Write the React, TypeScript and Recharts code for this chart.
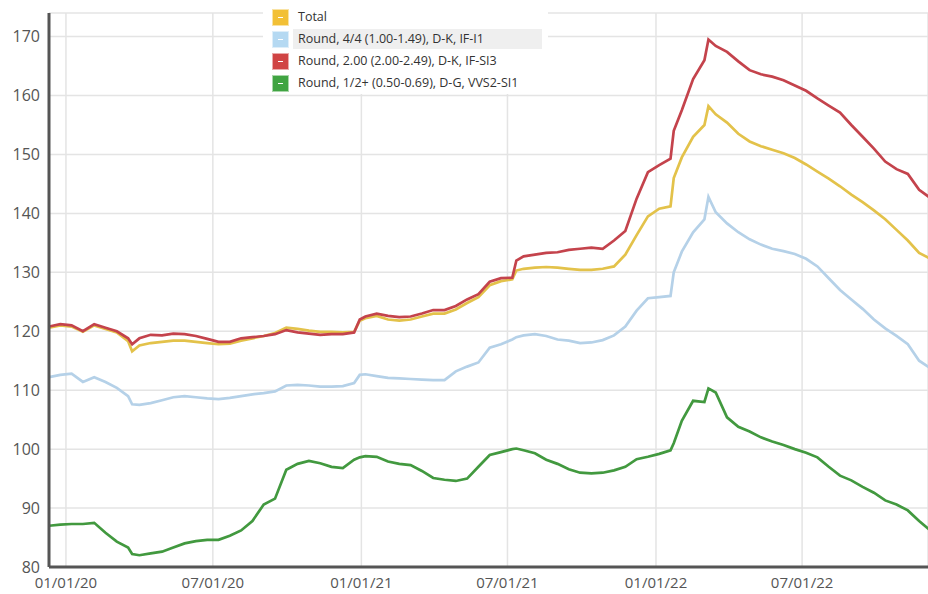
import React from 'react';
import { LineChart, Line, XAxis, YAxis, CartesianGrid, Legend } from 'recharts';

const dates = [
  '2019-12-11', '2019-12-25', '2020-01-08', '2020-01-22', '2020-02-05', '2020-02-19', '2020-03-04', '2020-03-18',
  '2020-03-23',
  '2020-04-01', '2020-04-15', '2020-04-29', '2020-05-13', '2020-05-27', '2020-06-10', '2020-06-24', '2020-07-08',
  '2020-07-22', '2020-08-05', '2020-08-19', '2020-09-02', '2020-09-16', '2020-09-30', '2020-10-14', '2020-10-28',
  '2020-11-11', '2020-11-25', '2020-12-09', '2020-12-23',
  '2020-12-30',
  '2021-01-06', '2021-01-20', '2021-02-03', '2021-02-17', '2021-03-03', '2021-03-17', '2021-03-31', '2021-04-14',
  '2021-04-28', '2021-05-12', '2021-05-26', '2021-06-09', '2021-06-23', '2021-07-07',
  '2021-07-12',
  '2021-07-21', '2021-08-04', '2021-08-18', '2021-09-01', '2021-09-15', '2021-09-29', '2021-10-13', '2021-10-27',
  '2021-11-10', '2021-11-24', '2021-12-08', '2021-12-22', '2022-01-05', '2022-01-19',
  '2022-01-23',
  '2022-02-02', '2022-02-16', '2022-03-02',
  '2022-03-07',
  '2022-03-16', '2022-03-30', '2022-04-13', '2022-04-27', '2022-05-11', '2022-05-25', '2022-06-08', '2022-06-22',
  '2022-07-06', '2022-07-20', '2022-08-03', '2022-08-17', '2022-08-31', '2022-09-14', '2022-09-28', '2022-10-12',
  '2022-10-26', '2022-11-09', '2022-11-23', '2022-12-07',
];

const total = [
  120.6, 121.0, 120.8, 119.9, 121.0, 120.4, 119.8, 118.3,
  116.6,
  117.6, 118.0, 118.2, 118.4, 118.4, 118.2, 118.0, 117.8, 117.9, 118.4, 118.8, 119.2, 119.7, 120.6, 120.4, 120.1,
  119.9, 119.9, 119.8, 119.9,
  121.8,
  122.2, 122.6, 122.0, 121.8, 122.0, 122.5, 123.0, 123.0, 123.7, 124.8, 125.8, 127.8, 128.5, 128.8,
  130.3,
  130.6, 130.8, 130.9, 130.8, 130.6, 130.4, 130.4, 130.6, 131.0, 133.0, 136.3, 139.5, 140.8, 141.2,
  146.0,
  149.5, 153.0, 155.0,
  158.2,
  156.8, 155.4, 153.5, 152.2, 151.4, 150.8, 150.2, 149.4, 148.3, 147.1, 145.9, 144.6, 143.2, 141.9, 140.5, 139.0,
  137.2, 135.4, 133.3, 132.3,
];

const round44 = [
  112.2, 112.6, 112.8, 111.4, 112.2, 111.4, 110.4, 109.0,
  107.6,
  107.5, 107.8, 108.3, 108.8, 109.0, 108.8, 108.6, 108.5, 108.7, 109.0, 109.3, 109.5, 109.8, 110.8, 110.9, 110.8,
  110.6, 110.6, 110.7, 111.2,
  112.6,
  112.7, 112.4, 112.1, 112.0, 111.9, 111.8, 111.7, 111.7, 113.2, 114.0, 114.7, 117.2, 117.8, 118.6,
  119.0,
  119.3, 119.5, 119.2, 118.6, 118.4, 118.0, 118.1, 118.5, 119.3, 120.8, 123.5, 125.6, 125.8, 126.0,
  130.0,
  133.5, 136.8, 139.0,
  142.8,
  140.2, 138.3, 136.8, 135.6, 134.7, 134.0, 133.6, 133.1, 132.3, 131.0, 129.0, 127.0, 125.4, 123.8, 122.0, 120.5,
  119.2, 117.8, 115.0, 113.7,
];

const round200 = [
  120.8, 121.2, 121.0, 120.0, 121.2, 120.6, 120.0, 118.8,
  117.8,
  118.8, 119.4, 119.3, 119.6, 119.5, 119.2, 118.7, 118.2, 118.2, 118.8, 119.0, 119.2, 119.5, 120.2, 119.8, 119.6,
  119.4, 119.5, 119.5, 119.8,
  122.0,
  122.5, 123.0, 122.6, 122.4, 122.5, 123.0, 123.6, 123.6, 124.3, 125.4, 126.3, 128.4, 129.0, 129.1,
  132.0,
  132.7, 133.0, 133.3, 133.4, 133.8, 134.0, 134.2, 134.0, 135.4, 137.0, 142.5, 147.0, 148.2, 149.3,
  154.0,
  157.5, 162.8, 166.0,
  169.5,
  168.4, 167.4, 165.8, 164.3, 163.6, 163.2, 162.6, 161.7, 160.8, 159.5, 158.3, 157.1, 155.0, 153.0, 151.0, 148.8,
  147.5, 146.7, 144.0, 142.6,
];

const round12 = [
  87.0, 87.2, 87.3, 87.3, 87.5, 85.8, 84.3, 83.3,
  82.2,
  82.0, 82.3, 82.6, 83.3, 84.0, 84.4, 84.6, 84.6, 85.3, 86.2, 87.8, 90.6, 91.6, 96.5, 97.5, 98.0,
  97.6, 97.0, 96.8, 98.2,
  98.6,
  98.8, 98.7, 97.9, 97.5, 97.3, 96.3, 95.1, 94.8, 94.6, 95.0, 97.0, 99.0, 99.5, 100.0,
  100.1,
  99.8, 99.3, 98.2, 97.5, 96.6, 96.0, 95.9, 96.0, 96.4, 97.0, 98.3, 98.7, 99.2, 99.8,
  101.0,
  104.8, 108.2, 108.0,
  110.3,
  109.6, 105.4, 103.8, 103.0, 102.0, 101.3, 100.7, 100.0, 99.4, 98.6, 97.0, 95.5, 94.7, 93.6, 92.6, 91.3,
  90.6, 89.6, 87.8, 86.2,
];

const xTickDates = ['2020-01-01', '2020-07-01', '2021-01-01', '2021-07-01', '2022-01-01', '2022-07-01'];
const yTicks = [80, 90, 100, 110, 120, 130, 140, 150, 160, 170];
const xStart = '2019-12-11';
const xEnd = '2022-12-04';

const seriesNames = ['Total', 'Round, 4/4 (1.00-1.49), D-K, IF-I1', 'Round, 2.00 (2.00-2.49), D-K, IF-SI3', 'Round, 1/2+ (0.50-0.69), D-G, VVS2-SI1'];
const lineColors = ['#E3C24A', '#B5D1E8', '#C4434C', '#42993F'];
const swatchColors = ['#F2C036', '#B5D9F2', '#D04444', '#40A442'];

const toMs = (s: string) => Date.parse(s + 'T00:00:00Z');

const data = dates.map((d, i) => ({
  t: toMs(d),
  total: total[i],
  r44: round44[i],
  r200: round200[i],
  r12: round12[i],
}));

const pad = (n: number) => (n < 10 ? '0' + n : '' + n);
const fmtDate = (ms: number) => {
  const d = new Date(ms);
  return `${pad(d.getUTCMonth() + 1)}/${pad(d.getUTCDate())}/${pad(d.getUTCFullYear() % 100)}`;
};

const FONT = '"Open Sans", "DejaVu Sans", sans-serif';

function LegendBox() {
  return (
    <div style={{ background: '#fff', padding: '0 6px 0 9px', fontFamily: FONT, fontSize: 12.5, color: '#333', width: 285, boxSizing: 'border-box' }}>
      {seriesNames.map((name, i) => (
        <div key={name} style={{ display: 'flex', alignItems: 'center', height: 22 }}>
          <div style={{ width: 17, height: 17, background: swatchColors[i], border: '1px solid rgba(255,255,255,0.55)', boxSizing: 'border-box', position: 'relative', flex: '0 0 auto' }}>
            <div style={{ position: 'absolute', left: 5, top: 7, width: 5, height: 1.5, background: '#fff' }} />
          </div>
          <div style={{ marginLeft: 4, paddingLeft: 5, flex: 1, height: 20, lineHeight: '20px', background: i === 1 ? '#efefef' : 'transparent', whiteSpace: 'nowrap' }}>
            {name}
          </div>
        </div>
      ))}
    </div>
  );
}

export default function App() {
  const keys = ['total', 'r44', 'r200', 'r12'];
  return (
    <div style={{ position: 'absolute', left: 0, top: 0, width: 928, height: 594, background: '#fff' }}>
      <LineChart width={928} height={594} data={data} margin={{ top: 13, right: 0, bottom: 0, left: 0 }}>
        <CartesianGrid stroke="#e4e4e4" strokeWidth={1.5} />
        <XAxis
          dataKey="t"
          type="number"
          domain={[toMs(xStart), toMs(xEnd)]}
          allowDataOverflow
          ticks={xTickDates.map(toMs)}
          tickFormatter={fmtDate}
          height={27}
          axisLine={{ stroke: '#555', strokeWidth: 3 }}
          tickLine={false}
          tickSize={6}
          tickMargin={4}
          tick={{ fill: '#555', fontSize: 15, fontFamily: FONT }}
          interval={0}
        />
        <YAxis
          type="number"
          domain={[80, 174]}
          ticks={yTicks}
          width={49}
          axisLine={{ stroke: '#555', strokeWidth: 3 }}
          tickLine={false}
          tickSize={6}
          tickMargin={3}
          tick={{ fill: '#555', fontSize: 16, fontFamily: FONT }}
          interval={0}
        />
        <Legend
          layout="horizontal"
          verticalAlign="middle"
          align="center"
          content={() => <LegendBox />}
          wrapperStyle={{ top: 6, left: 263, width: 285, height: 88 }}
        />
        {keys.map((k, i) => (
          <Line
            key={k}
            dataKey={k}
            name={seriesNames[i]}
            type="linear"
            stroke={lineColors[i]}
            strokeWidth={2.7}
            dot={false}
            activeDot={false}
            isAnimationActive={false}
          />
        ))}
      </LineChart>
    </div>
  );
}
